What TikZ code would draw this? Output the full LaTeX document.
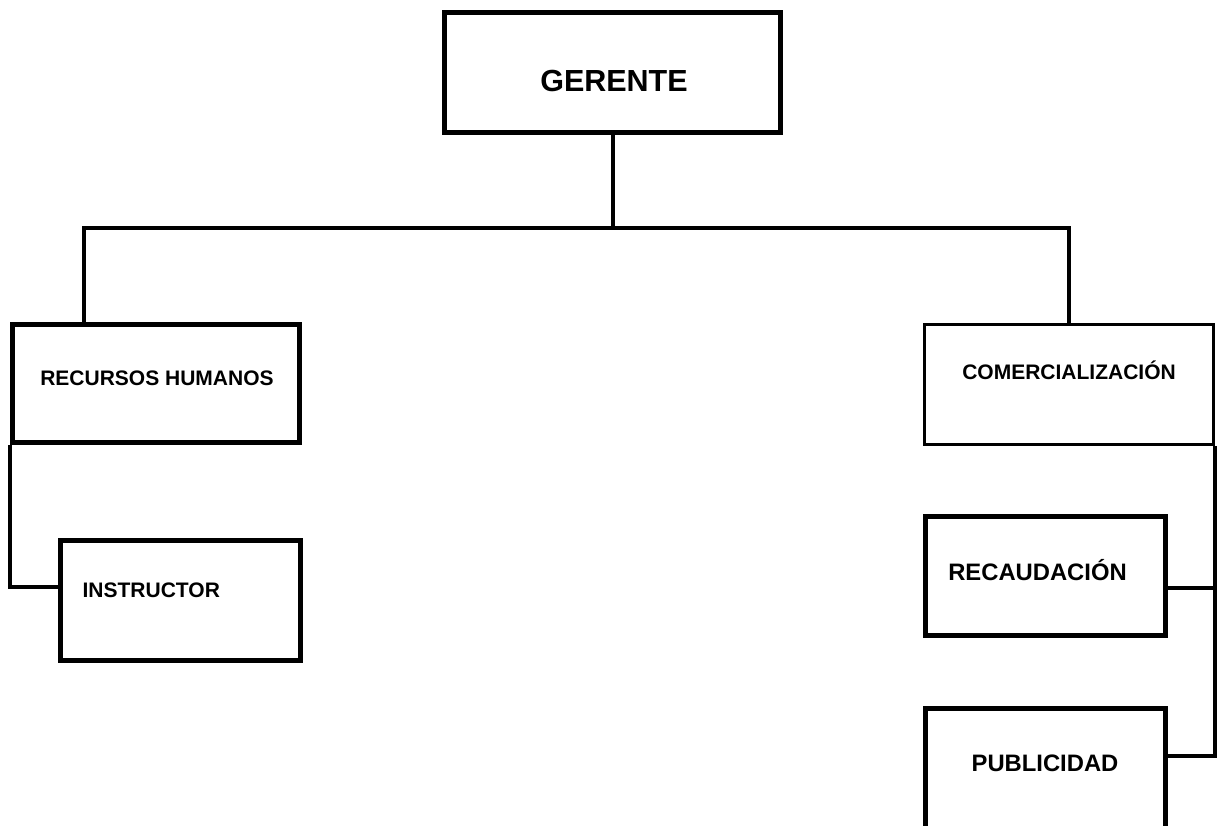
\documentclass[tikz,border=0pt]{standalone}
\usepackage{fontspec}
\setmainfont{Liberation Sans}
\usetikzlibrary{calc}

\begin{document}
\begin{tikzpicture}[x=1pt, y=-1pt,
  unit/.style={draw=black, line width=5pt, rectangle, inner sep=0pt},
  thinunit/.style={unit, line width=3pt},
  link/.style={draw=black, line width=4pt},
  lbl/.style={inner sep=0pt, anchor=base},
  txs/.style={lbl, font=\bfseries\fontsize{21pt}{25pt}\selectfont},
  txm/.style={lbl, font=\bfseries\fontsize{23.8pt}{28pt}\selectfont},
  txl/.style={lbl, font=\bfseries\fontsize{30.5pt}{36pt}\selectfont}]

  \useasboundingbox (0,0) rectangle (1219,826);
  \fill[white] (0,0) rectangle (1219,826);

  % organisational units
  \node[unit, minimum width=336pt, minimum height=120pt] (ger) at (612.5,72.5) {};
  \node[unit, minimum width=287pt, minimum height=118pt] (rh)  at (156,383.5) {};
  \node[unit, minimum width=240pt, minimum height=120pt] (ins) at (180.5,600.5) {};
  \node[thinunit, minimum width=289pt, minimum height=120pt] (com) at (1069,384.5) {};
  \node[unit, minimum width=240pt, minimum height=119pt] (rec) at (1045,576) {};
  \node[unit, minimum width=240pt, minimum height=120pt] (pub) at (1045.25,768.5) {};

  % unit names
  \node[txl] (ger-t) at (614,92) {GERENTE};
  \node[txs] (rh-t)  at (157,386) {RECURSOS HUMANOS};
  \node[txs] (ins-t) at (151.3,597) {INSTRUCTOR};
  \node[txs] (com-t) at (1069,380) {COMERCIALIZACIÓN};
  \node[txm] (rec-t) at (1037.5,580) {RECAUDACIÓN};
  \node[txm] (pub-t) at (1045,771.7) {PUBLICIDAD};

  % connectors
  \coordinate (busL) at (84,228.5);
  \coordinate (busR) at (1068.5,228.5);
  \draw[link] (ger.south) -- (ger.south |- busL);
  \draw[link] (busL |- rh.north) -- (busL) -- (busR) -- (busR |- com.north);

  \coordinate (insHook) at ($(ins.west)+(0,-14)$);
  \draw[link] (rh.south west) |- (insHook);

  \coordinate (pubHook) at ($(pub.east)+(0,-13)$);
  \coordinate (recHook) at ($(rec.east)+(0,11.5)$);
  \draw[link] (com.south east) |- (pubHook);
  \draw[link] (recHook) -- (recHook -| com.south east);
\end{tikzpicture}
\end{document}
